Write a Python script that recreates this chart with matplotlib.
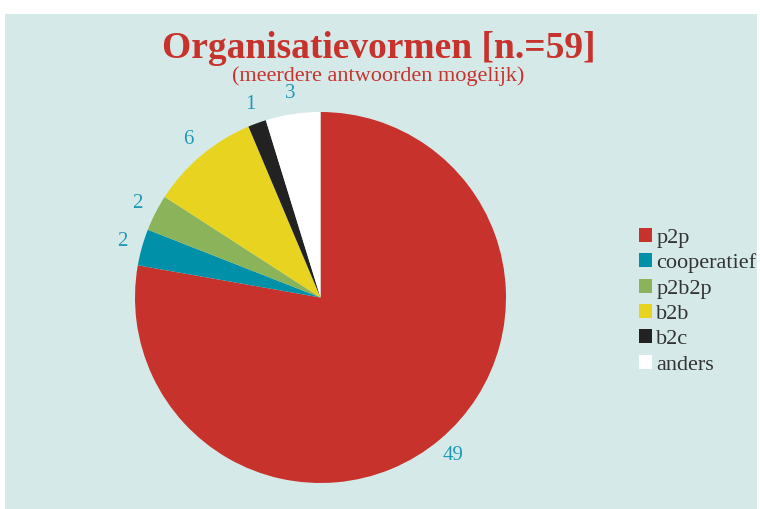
import matplotlib
matplotlib.use("Agg")
import matplotlib.pyplot as plt
from matplotlib.patches import Rectangle, Patch

categories = ["p2p", "cooperatief", "p2b2p", "b2b", "b2c", "anders"]
values = [49, 2, 2, 6, 1, 3]
colors = ["#c8322d", "#0090a8", "#8ab35a", "#e8d420", "#222222", "#ffffff"]
title = "Organisatievormen [n.=59]"
subtitle = "(meerdere antwoorden mogelijk)"

W, H = 760, 509
fig = plt.figure(figsize=(W/100, H/100), dpi=100)
fig.patch.set_facecolor("white")
fig.patches.append(Rectangle((5/W, 0), (757-5)/W, (H-14)/H, transform=fig.transFigure,
                             facecolor="#d6e9e9", edgecolor="none", zorder=-5))

serif = ["Liberation Serif", "DejaVu Serif"]

cx, cy, r = 320.5, H-297.5, 185.5
lim = 1.2
size = 2*lim*r
ax = fig.add_axes([(cx-size/2)/W, (cy-size/2)/H, size/W, size/H])
ax.set_zorder(2)
ax.set_facecolor("none")
wedges, texts = ax.pie(values, colors=colors, startangle=90, counterclock=False,
                       labels=[str(v) for v in values], labeldistance=1.11,
                       wedgeprops=dict(linewidth=0),
                       textprops=dict(color="#1f9ab5", fontsize=15, family=serif))
for t in texts:
    t.set_horizontalalignment("center")
    t.set_verticalalignment("center")
ax.set_xlim(-lim, lim)
ax.set_ylim(-lim, lim)
ax.set_aspect("equal")
ax.axis("off")

fig.text(379/W, 1-48/H, title, ha="center", va="center", fontsize=27,
         fontweight="bold", color="#c8322d", family=serif, zorder=3)
fig.text(378/W, 1-76/H, subtitle, ha="center", va="center", fontsize=16,
         color="#c8322d", family=serif, zorder=3)

handles = [Patch(facecolor=c, edgecolor="none") for c in colors]
leg = fig.legend(handles, categories, loc="upper left",
                 bbox_to_anchor=(639/W, 1-228/H), frameon=False,
                 borderpad=0, borderaxespad=0,
                 handlelength=0.6, handleheight=0.6, handletextpad=0.18,
                 labelspacing=0.245, prop=dict(family=serif, size=16))
for t in leg.get_texts():
    t.set_color("#333333")

fig.savefig("out.png", dpi=100, facecolor=fig.get_facecolor())
